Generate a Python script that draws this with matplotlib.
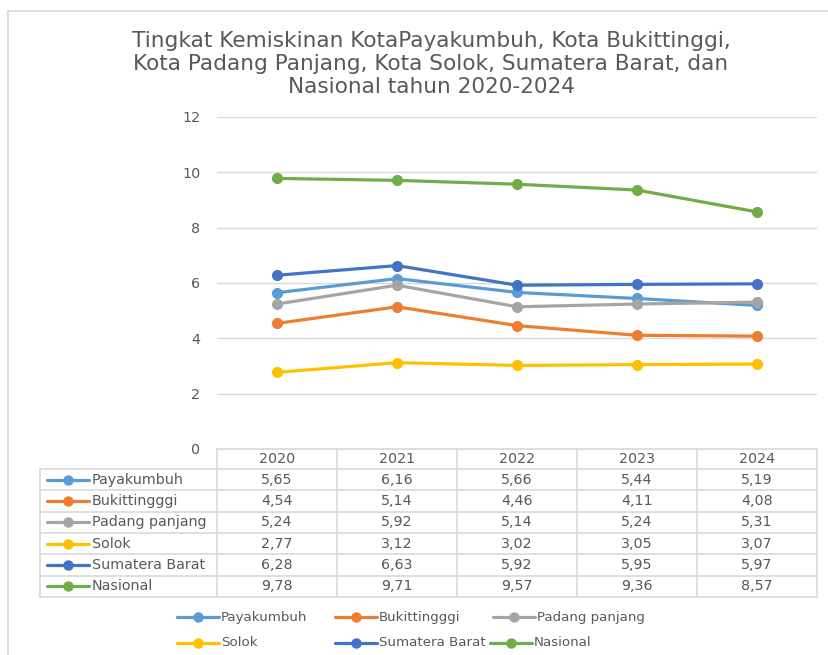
import matplotlib
matplotlib.use("Agg")
import matplotlib.pyplot as plt
from matplotlib.lines import Line2D
from matplotlib.patches import Rectangle

years = ["2020", "2021", "2022", "2023", "2024"]
series_names = ["Payakumbuh", "Bukittingggi", "Padang panjang", "Solok", "Sumatera Barat", "Nasional"]
payakumbuh = [5.65, 6.16, 5.66, 5.44, 5.19]
bukittinggi = [4.54, 5.14, 4.46, 4.11, 4.08]
padang_panjang = [5.24, 5.92, 5.14, 5.24, 5.31]
solok = [2.77, 3.12, 3.02, 3.05, 3.07]
sumatera_barat = [6.28, 6.63, 5.92, 5.95, 5.97]
nasional = [9.78, 9.71, 9.57, 9.36, 8.57]
series_values = [payakumbuh, bukittinggi, padang_panjang, solok, sumatera_barat, nasional]
colors = ["#5B9BD5", "#ED7D31", "#A5A5A5", "#FFC000", "#4472C4", "#70AD47"]
yticks = [0, 2, 4, 6, 8, 10, 12]
title = "Tingkat Kemiskinan KotaPayakumbuh, Kota Bukittinggi,\nKota Padang Panjang, Kota Solok, Sumatera Barat, dan\nNasional tahun 2020-2024"

W, H = 829, 655
plt.rcParams['font.family'] = ['DejaVu Sans']
fig = plt.figure(figsize=(W / 100, H / 100), dpi=100)

def fx(x):
    return x / W

def fy(y):
    return 1 - y / H

TXT = "#595959"
GRID = "#D9D9D9"
FS = 10.3
FS_LEG = 9.6

# chart frame
fig.patches.append(Rectangle((fx(8), fy(660)), fx(840) - fx(8), fy(11) - fy(660),
                             transform=fig.transFigure, fill=False, edgecolor="#D9D9D9", lw=1.2))

# title
fig.text(fx(431), fy(64), title, ha="center", va="center", fontsize=15.6, color=TXT,
         linespacing=1.2)

# plot axes
L, R, T, B = 217, 817, 117, 449
ax = fig.add_axes([fx(L), fy(B), fx(R) - fx(L), fy(T) - fy(B)])
xs = list(range(len(years)))
for name, vals, c in zip(series_names, series_values, colors):
    ax.plot(xs, vals, color=c, lw=2.3, marker="o", markersize=7, solid_capstyle="round", zorder=3)
ax.set_xlim(-0.5, len(years) - 0.5)
ax.set_ylim(0, 12)
ax.set_yticks(yticks)
ax.set_yticklabels([str(v) for v in yticks])
ax.set_xticks([])
for v in yticks:
    ax.axhline(v, color=GRID, lw=1.0, zorder=1)
for s in ax.spines.values():
    s.set_visible(False)
ax.tick_params(axis="y", length=0, pad=12, labelsize=FS, labelcolor=TXT)
ax.patch.set_alpha(0)

# data table
row_top = 469
row_h = 21.3
tab_left = 40
col_w = (R - L) / len(years)
lw_tab = 1.2

def hline(y, x0, x1):
    fig.add_artist(Line2D([fx(x0), fx(x1)], [fy(y), fy(y)], transform=fig.transFigure, color=GRID, lw=lw_tab))

def vline(x, y0, y1):
    fig.add_artist(Line2D([fx(x), fx(x)], [fy(y0), fy(y1)], transform=fig.transFigure, color=GRID, lw=lw_tab))

n_rows = len(series_names)
bottom = row_top + n_rows * row_h
hline(B, L, R)
for i in range(n_rows + 1):
    hline(row_top + i * row_h, tab_left, R)
vline(tab_left, row_top, bottom)
for j in range(len(years) + 1):
    vline(L + j * col_w, B, bottom)

for j, yr in enumerate(years):
    fig.text(fx(L + (j + 0.5) * col_w), fy((B + row_top) / 2), yr, ha="center", va="center",
             fontsize=FS, color=TXT)

for i, (name, vals, c) in enumerate(zip(series_names, series_values, colors)):
    yc = row_top + (i + 0.5) * row_h
    fig.add_artist(Line2D([fx(47), fx(89)], [fy(yc), fy(yc)], transform=fig.transFigure,
                          color=c, lw=2.3, solid_capstyle="round"))
    fig.add_artist(Line2D([fx(68)], [fy(yc)], transform=fig.transFigure, color=c,
                          marker="o", markersize=6.5, lw=0))
    fig.text(fx(92), fy(yc), name, ha="left", va="center", fontsize=FS, color=TXT)
    for j, v in enumerate(vals):
        fig.text(fx(L + (j + 0.5) * col_w), fy(yc), f"{v:.2f}".replace(".", ","),
                 ha="center", va="center", fontsize=FS, color=TXT)

# legend below
leg_x = [177, 335, 493, 177, 335, 490]
leg_y = [617, 617, 617, 643, 643, 643]
for k, (name, c) in enumerate(zip(series_names, colors)):
    x0 = leg_x[k]
    y0 = leg_y[k]
    fig.add_artist(Line2D([fx(x0), fx(x0 + 42)], [fy(y0), fy(y0)], transform=fig.transFigure,
                          color=c, lw=2.3, solid_capstyle="round"))
    fig.add_artist(Line2D([fx(x0 + 21)], [fy(y0)], transform=fig.transFigure, color=c,
                          marker="o", markersize=6.5, lw=0))
    fig.text(fx(x0 + 44), fy(y0), name, ha="left", va="center", fontsize=FS_LEG, color=TXT)

fig.savefig("out.png", dpi=100)
